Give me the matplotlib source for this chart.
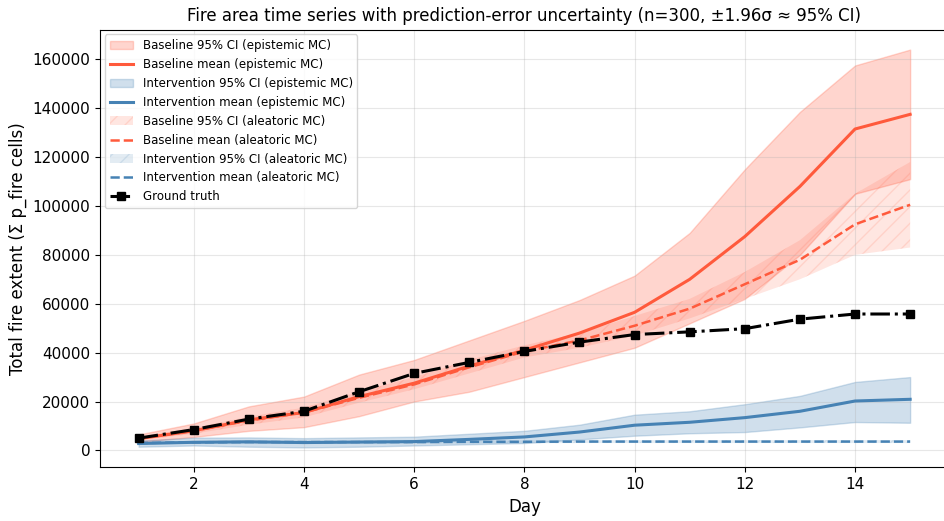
import numpy as np
import matplotlib
matplotlib.use("Agg")
import matplotlib.pyplot as plt

days = np.arange(1, 16)

# Baseline, epistemic MC
base_ep_mean = [4800, 8000, 12500, 15500, 22000, 27500, 34500, 41000, 48000, 56500, 70000, 87500, 108000, 131500, 137500]
base_ep_hi = [6500, 11000, 18000, 22000, 31000, 37000, 45000, 53000, 61500, 71500, 89000, 115000, 138500, 157500, 164000]
base_ep_lo = [3500, 5500, 8000, 9500, 14000, 20000, 24000, 30000, 36000, 42000, 52000, 62000, 80000, 105000, 111000]

# Intervention, epistemic MC
int_ep_mean = [2800, 3300, 3500, 3200, 3400, 3600, 4500, 5500, 7500, 10300, 11500, 13400, 16000, 20200, 20900]
int_ep_hi = [4000, 5200, 5300, 5000, 5300, 5600, 6800, 8000, 10500, 14600, 16000, 18900, 22300, 28000, 30000]
int_ep_lo = [1500, 2000, 1500, 1200, 1500, 2000, 2500, 3000, 4500, 6000, 7000, 7500, 9400, 11600, 11300]

# Baseline, aleatoric MC
base_al_mean = [4800, 8000, 12200, 15500, 21500, 27000, 34000, 40500, 45000, 51000, 58000, 68000, 78000, 92500, 100500]
base_al_hi = [5500, 9200, 13800, 17500, 24000, 30000, 37000, 43000, 48000, 55000, 62000, 73000, 86000, 105000, 118000]
base_al_lo = [4100, 6800, 10500, 13500, 19500, 25000, 31500, 38000, 42000, 47000, 54000, 62000, 70000, 80000, 83000]

# Intervention, aleatoric MC
int_al_mean = [3000, 3300, 3400, 3400, 3400, 3400, 3500, 3500, 3600, 3600, 3600, 3600, 3600, 3600, 3600]
int_al_hi = [3600, 3900, 4000, 4000, 4000, 4000, 4100, 4100, 4200, 4200, 4200, 4200, 4200, 4200, 4200]
int_al_lo = [2400, 2700, 2800, 2800, 2800, 2800, 2900, 2900, 3000, 3000, 3000, 3000, 3000, 3000, 3000]

ground_truth = [5000, 8500, 12800, 16000, 24000, 31500, 36000, 40500, 44300, 47400, 48500, 49800, 53700, 55800, 55800]

c_base = "#ff5a3c"
c_int = "steelblue"

fig, ax = plt.subplots(figsize=(9.44, 5.21), dpi=100)

ax.fill_between(days, base_ep_lo, base_ep_hi, color=c_base, alpha=0.25, label="Baseline 95% CI (epistemic MC)")
ax.plot(days, base_ep_mean, color=c_base, lw=2.2, label="Baseline mean (epistemic MC)")
ax.fill_between(days, int_ep_lo, int_ep_hi, color=c_int, alpha=0.25, label="Intervention 95% CI (epistemic MC)")
ax.plot(days, int_ep_mean, color=c_int, lw=2.2, label="Intervention mean (epistemic MC)")

ax.fill_between(days, base_al_lo, base_al_hi, color=c_base, alpha=0.15, hatch="//",
                edgecolor=c_base, linewidth=0, label="Baseline 95% CI (aleatoric MC)")
ax.plot(days, base_al_mean, color=c_base, lw=1.8, ls="--", label="Baseline mean (aleatoric MC)")
ax.fill_between(days, int_al_lo, int_al_hi, color=c_int, alpha=0.15, hatch="//",
                edgecolor=c_int, linewidth=0, label="Intervention 95% CI (aleatoric MC)")
ax.plot(days, int_al_mean, color=c_int, lw=1.8, ls="--", label="Intervention mean (aleatoric MC)")

ax.plot(days, ground_truth, color="black", lw=2.2, ls="-.", marker="s", markersize=5.5, label="Ground truth")

ax.set_title("Fire area time series with prediction-error uncertainty (n=300, ±1.96σ ≈ 95% CI)", fontsize=12)
ax.set_xlabel("Day", fontsize=12)
ax.set_ylabel("Total fire extent (Σ p_fire cells)", fontsize=12)
ax.tick_params(labelsize=11)
ax.grid(True, alpha=0.3)
ax.legend(loc="upper left", fontsize=8.5, borderaxespad=0.4)

# the reference is cropped on the right, so the right spine sits just outside the image
fig.subplots_adjust(left=0.106, right=1.005, top=0.943, bottom=0.103)
plt.savefig("out.png")
